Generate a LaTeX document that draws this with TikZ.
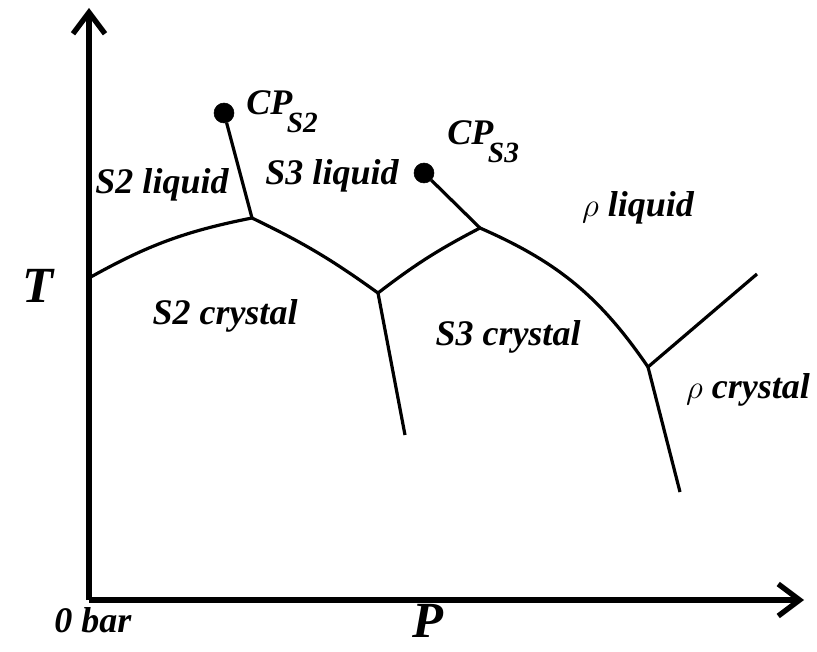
\documentclass[tikz,border=0pt]{standalone}
\usepackage{fontspec}
\setmainfont{Liberation Serif}
\usetikzlibrary{arrows.meta}
\pgfdeclarelayer{edgelayer}
\pgfdeclarelayer{nodelayer}
\pgfsetlayers{edgelayer,nodelayer,main}
\tikzstyle{none}=[inner sep=0mm]
\tikzstyle{black dot}=[inner sep=0mm,minimum size=15pt,fill=black,draw=black,shape=circle]
\tikzstyle{cp}=[black dot]
\tikzstyle{phase}=[inner sep=0mm,font=\fontsize{27}{27}\selectfont\bfseries\itshape]
\tikzstyle{cplabel}=[phase,anchor=base west]
\tikzstyle{axislabel}=[inner sep=0mm,font=\fontsize{38}{38}\selectfont\bfseries\itshape]
\tikzstyle{axis}=[line width=4pt,-{Straight Barb[length=16pt,width=24pt]}]
\tikzstyle{boundary}=[line width=2.4pt]
\newcommand{\sub}[1]{\kern-4pt\raisebox{-13pt}{\fontsize{22}{22}\selectfont #1}}

\begin{document}
\begin{tikzpicture}[x=0.75pt,y=-0.75pt]
	\useasboundingbox (0,0) rectangle (817,652);
	\begin{pgfonlayer}{nodelayer}
		\node [style=none] (0) at (89, 600) {};
		\node [style=none] (1) at (89, 8) {};
		\node [style=none] (2) at (804, 600) {};
		\node [style=none] (3) at (89, 278) {};
		\node [style=none] (4) at (252, 218) {};
		\node [style=none] (5) at (378, 293) {};
		\node [style=none] (6) at (405, 435) {};
		\node [style=none] (7) at (480, 228) {};
		\node [style=none] (8) at (648, 367) {};
		\node [style=none] (9) at (757, 274) {};
		\node [style=none] (10) at (680, 492) {};
		\node [style=cp] (11) at (224, 113) {};
		\node [style=cp] (12) at (424, 173) {};
		\node [style=cplabel] (13) at (246, 115) {CP\sub{S2}};
		\node [style=cplabel] (14) at (447, 145) {CP\sub{S3}};
		\node [style=phase] (15) at (162, 185) {S2 liquid};
		\node [style=phase] (16) at (332, 176) {S3 liquid};
		\node [style=phase] (17) at (225, 316) {S2 crystal};
		\node [style=phase] (18) at (508, 337) {S3 crystal};
		\node [style=phase] (19) at (638, 208) {$\rho$ liquid};
		\node [style=phase] (20) at (748, 390) {$\rho$ crystal};
		\node [style=axislabel] (21) at (38, 286) {T};
		\node [style=phase] (22) at (93, 620) {0 bar};
		\node [style=axislabel] (23) at (428, 621) {P};
	\end{pgfonlayer}
	\begin{pgfonlayer}{edgelayer}
		\draw[style=axis] (0.center) to (1.center);
		\draw[style=axis] (0.center) to (2.center);
		\draw[style=boundary, bend left=9] (3.center) to (4.center);
		\draw[style=boundary, bend left=5] (4.center) to (5.center);
		\draw[style=boundary] (5.center) to (6.center);
		\draw[style=boundary, bend left=5] (5.center) to (7.center);
		\draw[style=boundary, bend left=16] (7.center) to (8.center);
		\draw[style=boundary] (8.center) to (9.center);
		\draw[style=boundary] (8.center) to (10.center);
		\draw[style=boundary] (11) to (4.center);
		\draw[style=boundary] (12) to (7.center);
	\end{pgfonlayer}
\end{tikzpicture}
\end{document}
